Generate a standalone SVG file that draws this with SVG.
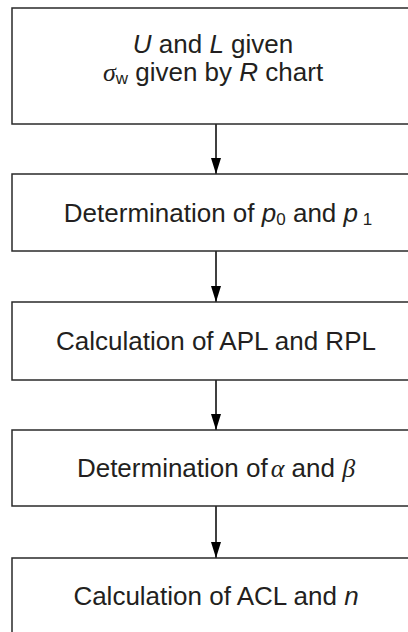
<svg xmlns="http://www.w3.org/2000/svg" width="408" height="632" viewBox="0 0 408 632">
  <defs>
    <marker id="arr" viewBox="0 0 16 12" refX="16" refY="6" markerWidth="16" markerHeight="12" markerUnits="userSpaceOnUse" orient="auto">
      <path d="M0,1 L16,6 L0,11 Z" fill="#000"/>
    </marker>
    <style>
      .box { fill: #fff; stroke: #2a2a2a; stroke-width: 1.5; }
      .t { font-family: "Liberation Sans", Arial, sans-serif; font-size: 26px; fill: #231f20; text-anchor: middle; }
      .i { font-style: italic; }
      .g { font-family: "Liberation Serif", "Times New Roman", serif; font-style: italic; }
      .sub { font-size: 17px; }
      .conn { stroke: #000; stroke-width: 1.5; fill: none; }
    </style>
  </defs>
  <rect width="408" height="632" fill="#fff"/>

  <g id="connectors">
    <line class="conn" x1="216" y1="124" x2="216" y2="174" marker-end="url(#arr)"/>
    <line class="conn" x1="216" y1="251" x2="216" y2="302" marker-end="url(#arr)"/>
    <line class="conn" x1="216" y1="380" x2="216" y2="430" marker-end="url(#arr)"/>
    <line class="conn" x1="216" y1="506" x2="216" y2="558" marker-end="url(#arr)"/>
  </g>

  <g id="node1">
    <rect class="box" x="12" y="8" width="408" height="116"/>
    <text class="t" x="213" y="53"><tspan class="i">U</tspan> and <tspan class="i">L</tspan> given</text>
    <text class="t" x="213" y="81"><tspan class="g">σ</tspan><tspan class="sub" dy="3">w</tspan><tspan dy="-3"> given by </tspan><tspan class="i">R</tspan> chart</text>
  </g>

  <g id="node2">
    <rect class="box" x="12" y="174" width="408" height="77"/>
    <text class="t" x="218" y="222">Determination of <tspan class="i">p</tspan><tspan class="sub" dy="3">0</tspan><tspan dy="-3"> and </tspan><tspan class="i">p</tspan><tspan class="sub" dy="3"> 1</tspan></text>
  </g>

  <g id="node3">
    <rect class="box" x="12" y="302" width="408" height="78"/>
    <text class="t" x="216" y="350">Calculation of APL and RPL</text>
  </g>

  <g id="node4">
    <rect class="box" x="12" y="430" width="408" height="76"/>
    <text class="t" x="216" y="477">Determination of<tspan class="g" dx="3">α</tspan> and <tspan class="g">β</tspan></text>
  </g>

  <g id="node5">
    <rect class="box" x="12" y="558" width="408" height="76"/>
    <text class="t" x="216" y="605">Calculation of ACL and <tspan class="i">n</tspan></text>
  </g>
</svg>
